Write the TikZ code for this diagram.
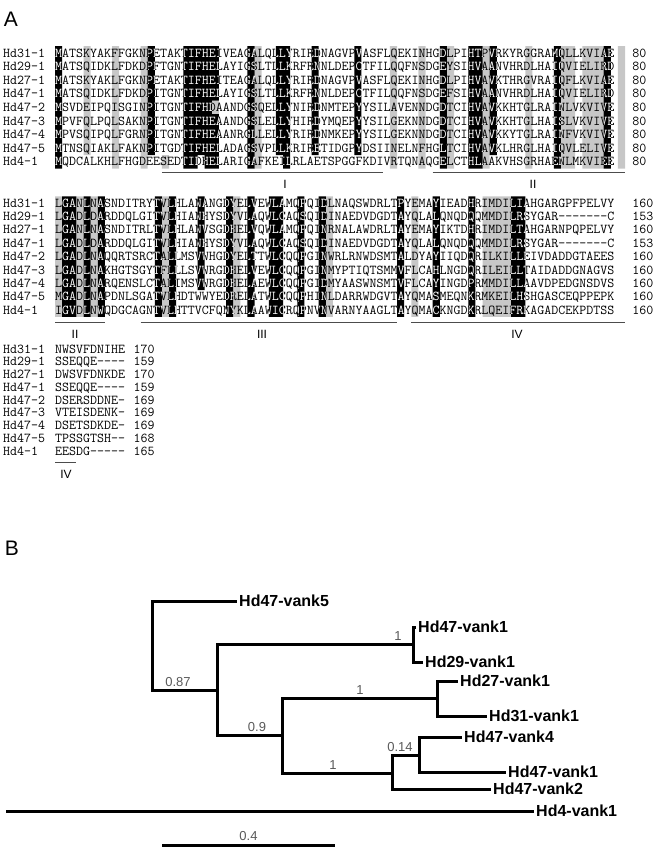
\documentclass[tikz,border=0pt]{standalone}
\usepackage{fontspec}
\setmainfont{Liberation Sans}
\usetikzlibrary{positioning}

\def\xo{55}
\def\cw{7.125}

\tikzset{
  seq/.style={anchor=base west, inner sep=0pt, font=\ttfamily\fontsize{13.57}{13.57}\selectfont},
  blk/.style={fill=black},
  gry/.style={fill=black!22},
  motif/.style={draw=black!70, line width=0.9pt},
  motiflbl/.style={inner sep=0pt, font=\fontsize{12}{12}\selectfont},
  panel/.style={inner sep=0pt, font=\fontsize{21}{21}\selectfont},
  branch/.style={line width=3pt},
  leaf/.style={anchor=west, inner sep=2pt, font=\bfseries\fontsize{16}{16}\selectfont},
  boot/.style={anchor=south, inner sep=1pt, text=black!65, font=\fontsize{13}{13}\selectfont},
}

% shading cells: column/first row/last row
\newcommand{\alnshade}[4]{%
  \fill[#1] foreach \cc/\ra/\rb in #4 {({\xo+(\cc-1)*\cw},{#2+(\ra-1.5)*#3}) rectangle ({\xo+\cc*\cw},{#2+(\rb-0.5)*#3})};}
% rows: name/sequence/number
\newcommand{\alnrows}[5]{%
  \foreach \nm/\sq/\num [count=\r] in #1 {
    \node[seq] (#5\r) at (\xo,{#2+(\r-1)*#3+4.1}) {\sq};
    \node[seq] (#5name\r) at (3,{#2+(\r-1)*#3+4.1}) {\nm};
    \node[seq] (#5num\r) at ({\xo+#4*\cw},{#2+(\r-1)*#3+4.1}) {\num};
  }}
% white letters on black cells
\newcommand{\alnwhite}[4]{%
  \begin{scope}
    \clip foreach \cc/\ra/\rb in #4 {({\xo+(\cc-1)*\cw},{#2+(\ra-1.5)*#3}) rectangle ({\xo+\cc*\cw},{#2+(\rb-0.5)*#3})};
    \foreach \nm/\sq/\num [count=\r] in #1
      \node[seq, text=white] at (\xo,{#2+(\r-1)*#3+4.1}) {\sq};
  \end{scope}}

\def\rowsA{Hd31-1/MATSKYAKFFGKNPETAKTIFHEIVEAGALQLLYRIRDNAGVPVASFLQEKINHGDLPIHTPVRKYRGGRAMQLLKVIAE/80,
Hd29-1/MATSQIDKLFDKDPFTGNTIFHELAYIGSLTLLKRFRNNLDEPCTFILQQFNSDGEYSIHVAANVHRDLHAIQVIELIRD/80,
Hd27-1/MATSKYAKLFGKNPETAKTIFHEITEAGALQLLYRIRDNAGVPVASFLQEKINHGDLPIHVAVKTHRGVRAIQFLKVIAE/80,
Hd47-1/MATSQIDKLFDKDPITGNTIFHELAYIGSLTLLKRFRNNLDEPCTFILQQFNSDGEFSIHVAANVHRDLHAIQVIELIRD/80,
Hd47-2/MSVDEIPQISGINPITGNTIFHDAANDGSQELLYNIRDNMTEPYYSILAVENNDGDTCIHVAVKKHTGLRAINLVKVIVE/80,
Hd47-3/MPVFQLPQLSAKNPITGNTIFHEAANDGSLELLYHIRDYMQEPYYSILGEKNNDGDTCIHVAVKKHTGLHAISLVKVIVE/80,
Hd47-4/MPVSQIPQLFGRNPITGNTIFHEAANRGLLELLYRIRDNMKEPYYSILGEKNNDGDTCIHVAVKKYTGLRAINFVKVIVE/80,
Hd47-5/MTNSQIAKLFAKNPITGDTIFHELADAGSVPLLKRIRETIDGPYDSIINELNFHGLTCIHVAVKLHRGLHAIQVLELIVE/80,
Hd4-1/MQDCALKHLFHGDEESEDTIDHELARIGAFKEILRLAETSPGGFKDIVRTQNAQGELCTHLAAKVHSGRHAENLMKVIEE/80}
\def\blackA{1/1/9, 14/1/8, 19/1/9, 20/1/9, 21/1/8, 22/1/9, 23/1/4, 23/6/9, 28/1/9, 32/1/8, 33/1/9,
37/1/8, 43/1/8, 55/1/9, 59/1/9, 60/1/9, 62/1/8, 71/1/9, 78/1/9}
\def\grayA{5/1/8, 9/1/9, 13/1/9, 16/9/9, 23/5/5, 29/1/9, 48/1/9, 52/1/9, 56/1/9, 61/1/9, 67/1/9,
72/1/9, 73/1/9, 75/1/9, 76/1/9, 77/1/9, 80/1/9}

\def\rowsB{Hd31-1/LGANLNASNDITRYTVLHLANANGDYELVEWLAMQPQIDLNAQSWDRLTPYEMAYIEADHRIMDILIAHGARGPFPELVY/160,
Hd29-1/LGADLDARDDQLGITVLHIANHYSDYVLAQWLCAQSQIDINAEDVDGDTAYQLALQNQDQQMMDILRSYGAR-------C/153,
Hd27-1/LGANLNASNDITRLTVLHLANVSGDHELVQWLAMQPQINRNALAWDRLTAYEMAYIKTDHRIMDILTAHGARNPQPELVY/160,
Hd47-1/LGADLDARDDQLGITVLHIANHYSDYVLAQWLCAQSQIDINAEDVDGDTAYQLALQNQDQQMMDILRSYGAR-------C/153,
Hd47-2/LGADLNAQQRTSRCTALLMSVWHGDYELTTWLCQQPGINWRLRNWDSMTALDYAYIIQDQRILKILLEIVDADDGTAEES/160,
Hd47-3/LGADLNAKHGTSGYTFLLLSVWRGDHELVEWLCQQPGINMYPTIQTSMMVFLCAHLNGDQRILEILLTAIDADDGNAGVS/160,
Hd47-4/LGADLNARQENSLCTALIMSVWRGDHELAEWLCQQPGIDMYAASWNSMTVFLCAYINGDPRMMDILLAAVDPEDGNSDVS/160,
Hd47-5/MGADLNAPDNLSGATVLHDTWWYEDRELATWLCQQPHINLDARRWDGVTAYQMASMEQNKRMKEILHSHGASCEQPPEPK/160,
Hd4-1/IGVDLNWQDGCAGNTVLHTTVCFQNYKLAAWICRQPNVNVARNYAAGLTAYQMACKNGDKRLQEIFRKAGADCEKPDTSS/160}
\def\blackB{2/1/9, 3/1/9, 5/1/9, 7/1/9, 15/1/9, 17/1/9, 21/1/7, 25/1/9, 28/1/9, 31/1/9, 32/1/9,
35/1/9, 38/1/9, 49/1/9, 54/1/9, 59/1/9, 65/1/9, 66/1/9}
\def\grayB{1/1/9, 4/1/9, 6/1/9, 16/1/9, 26/1/9, 39/1/9, 51/1/9, 61/1/9, 62/1/9, 63/1/9, 64/1/9}

\def\rowsC{Hd31-1/NWSVFDNIHE/170, Hd29-1/SSEQQE----/159, Hd27-1/DWSVFDNKDE/170,
Hd47-1/SSEQQE----/159, Hd47-2/DSERSDDNE-/169, Hd47-3/VTEISDENK-/169,
Hd47-4/DSETSDKDE-/169, Hd47-5/TPSSGTSH--/168, Hd4-1/EESDG-----/165}

\begin{document}
\begin{tikzpicture}[x=1pt,y=-1pt]
\useasboundingbox (0,0) rectangle (656,852);

% panel letters
\node[panel] (pA) at (11,19) {A};
\node[panel] (pB) at (12,548) {B};

% alignment, residues 1-80
\alnshade{gry}{53}{13.6}{\grayA}
\alnshade{blk}{53}{13.6}{\blackA}
\alnrows{\rowsA}{53}{13.6}{81}{a}
\alnwhite{\rowsA}{53}{13.6}{\blackA}
\draw[motif] ({\xo+15*\cw},172) -- ({\xo+46*\cw},172);
\draw[motif] ({\xo+53*\cw},172) -- ({\xo+80*\cw},172);
\node[motiflbl] (mI) at (285,184) {I};
\node[motiflbl] (mII) at (533,184) {II};

% residues 81-160
\alnshade{gry}{203}{13.4}{\grayB}
\alnshade{blk}{203}{13.4}{\blackB}
\alnrows{\rowsB}{203}{13.4}{81}{b}
\alnwhite{\rowsB}{203}{13.4}{\blackB}
\draw[motif] (\xo,322) -- ({\xo+7*\cw},322);
\draw[motif] ({\xo+12*\cw},322) -- ({\xo+48*\cw},322);
\draw[motif] ({\xo+50*\cw},322) -- ({\xo+80*\cw},322);
\node[motiflbl] (mIIb) at (75,334) {II};
\node[motiflbl] (mIII) at (262,334) {III};
\node[motiflbl] (mIV) at (517,334) {IV};

% C-terminal ends
\alnrows{\rowsC}{349}{12.75}{11}{c}
\draw[motif] (\xo,462) -- ({\xo+3*\cw},462);
\node[motiflbl] (mIVc) at (66,474) {IV};

% tree
\coordinate (nA) at (152,690);
\coordinate (nB) at (217,690);
\coordinate (nD) at (413,644.5);
\coordinate (nC) at (282,735);
\coordinate (nE) at (437,698);
\coordinate (nF) at (392,773);
\coordinate (nG) at (419,755);

\node[leaf] (v5) at (237,601) {Hd47-vank5};
\node[leaf] (t47a) at (416,627) {Hd47-vank1};
\node[leaf] (t29) at (423,662) {Hd29-vank1};
\node[leaf] (t27) at (458,681) {Hd27-vank1};
\node[leaf] (t31) at (487,716) {Hd31-vank1};
\node[leaf] (t47d) at (462,737) {Hd47-vank4};
\node[leaf] (t47b) at (506,772) {Hd47-vank1};
\node[leaf] (t47c) at (491,789) {Hd47-vank2};
\node[leaf] (t4) at (534,811) {Hd4-vank1};
\coordinate (r4) at (6,811);

\draw[branch] (nB) -- (nA) |- (v5.west);
\draw[branch] (nB) |- (nD);
\draw[branch] (nB) |- (nC);
\draw[branch] (nD) |- (t47a.west);
\draw[branch] (nD) |- (t29.west);
\draw[branch] (nC) |- (nE);
\draw[branch] (nC) |- (nF);
\draw[branch] (nE) |- (t27.west);
\draw[branch] (nE) |- (t31.west);
\draw[branch] (nF) |- (nG);
\draw[branch] (nF) |- (t47c.west);
\draw[branch] (nG) |- (t47d.west);
\draw[branch] (nG) |- (t47b.west);
\draw[branch] (r4) -- (t4.west);

\node[boot] (b087) at (178,688) {0.87};
\node[boot] (b090) at (257,733) {0.9};
\node[boot] (b1a) at (398,642) {1};
\node[boot] (b1b) at (360,696) {1};
\node[boot] (b1c) at (333,771) {1};
\node[boot] (b014) at (400,753) {0.14};

% scale bar
\coordinate (sb1) at (162,845);
\coordinate (sb2) at (335,845);
\draw[branch] (sb1) -- (sb2) node[boot, midway, above=2pt] (sbl) {0.4};
\end{tikzpicture}
\end{document}
